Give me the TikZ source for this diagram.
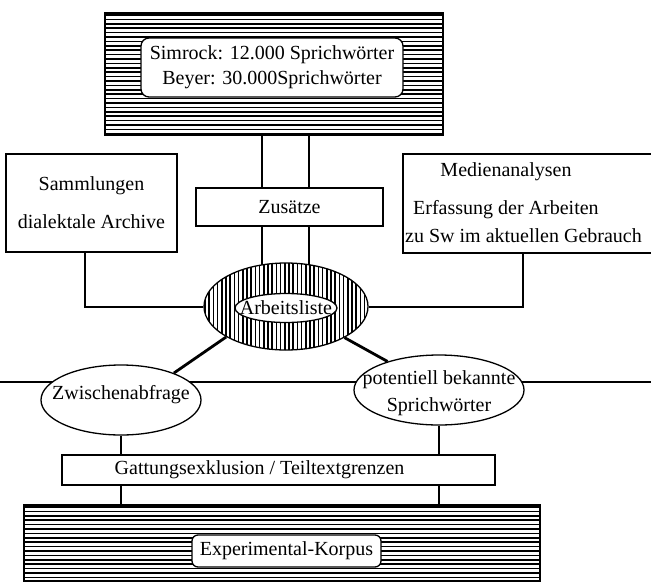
\documentclass[tikz,border=0pt]{standalone}
\usepackage{fontspec}
\setmainfont{Liberation Serif}
\usetikzlibrary{shapes.geometric,backgrounds}

\tikzset{
  box/.style={draw, rectangle, line width=1.3pt, fill=white, inner sep=0pt},
  roundbox/.style={box, rounded corners=8pt},
  oval/.style={draw, ellipse, line width=1.3pt, fill=white, inner sep=0pt},
  hatchline/.style={line width=1.6pt},
  link/.style={line width=2.8pt},
  thinlink/.style={line width=2pt},
  rule/.style={line width=1.1pt},
}

\begin{document}
\begin{tikzpicture}[x=1pt,y=-1pt,font=\fontsize{20}{25}\selectfont]
\useasboundingbox (0,0) rectangle (651,582);

% x positions of the vertical connectors
\coordinate (xa) at (262,0);
\coordinate (xb) at (309,0);
\coordinate (xl) at (85,0);
\coordinate (xr) at (523,0);
\coordinate (hw) at (0,382);
\coordinate (he) at (651,382);

% sources on top
\node[box, minimum width=338, minimum height=122] (top) at (274,74) {};
\begin{scope}
  \clip (top.north west) rectangle (top.south east);
  \foreach \yy in {15,19.4,...,135} \draw[hatchline] (0,\yy) -- (651,\yy);
\end{scope}
\node[roundbox, minimum width=262, minimum height=59, align=center] (src) at (272,67.5)
  {Simrock: 12.000 Sprichwörter\\Beyer: 30.000Sprichwörter};

\node[box, minimum width=187, minimum height=38] (zus) at (289.5,207) {Zusätze};
\node[box, minimum width=171, minimum height=98, align=center] (samm) at (91.5,203)
  {Sammlungen\\[13pt]dialektale Archive};
\node[box, minimum width=252, minimum height=99] (medien) at (529,203.5) {};
\node (medT1) at (506,172) {Medienanalysen};
\node[anchor=west, inner sep=0pt] (medT2) at (413,210) {Erfassung der Arbeiten};
\node[anchor=west, inner sep=0pt] (medT3) at (405,236) {zu Sw im aktuellen Gebrauch};

% work list
\node[oval, minimum width=164, minimum height=87] (liste) at (286,306.5) {};
\begin{scope}
  \clip (286,306.5) ellipse [x radius=82pt, y radius=43.5pt];
  \foreach \xx in {205,209.2,...,370} \draw[hatchline] (\xx,260) -- (\xx,352);
\end{scope}
\node[oval, minimum width=102, minimum height=29] (arbeit) at (286,308) {};
\node (arbeitT) at (286,308) {Arbeitsliste};

\node[oval, minimum width=160, minimum height=70] (zwi) at (121,400) {};
\node (zwiT) at (121,395) {Zwischenabfrage};
\node[oval, minimum width=170, minimum height=70] (pot) at (439,390) {};
\node[align=center] (potT) at (439,393.5) {potentiell bekannte\\[2pt]Sprichwörter};

\node[box, minimum width=433, minimum height=30] (gatt) at (278.5,470)
  {Gattungsexklusion / Teiltextgrenzen\hspace*{38pt}};

% corpus
\node[box, minimum width=516, minimum height=76] (corpus) at (282,543) {};
\begin{scope}
  \clip (corpus.north west) rectangle (corpus.south east);
  \foreach \yy in {507,511.4,...,582} \draw[hatchline] (0,\yy) -- (651,\yy);
\end{scope}
\node[roundbox, rounded corners=6pt, minimum width=189, minimum height=32] (korpus) at (286.5,551)
  {Experimental-Korpus};

\begin{scope}[on background layer]
  \draw[rule] (hw) -- (he);
  \draw[link] (top.south -| xa) -- (zus.north -| xa);
  \draw[link] (top.south -| xb) -- (zus.north -| xb);
  \draw[link] (zus.south -| xa) -- (liste.center -| xa);
  \draw[link] (zus.south -| xb) -- (liste.center -| xb);
  \draw[thinlink] (samm.south -| xl) |- (liste);
  \draw[thinlink] (medien.south -| xr) |- (liste);
  \draw[link] (liste.-153) -- (zwi.27);
  \draw[link] (liste.-28) -- (pot.151);
  \draw[link] (zwi.south) -- (gatt.north -| zwi.south);
  \draw[link] (pot.south) -- (gatt.north -| pot.south);
  \draw[link] (gatt.south -| zwi.south) -- (corpus.north -| zwi.south);
  \draw[link] (gatt.south -| pot.south) -- (corpus.north -| pot.south);
\end{scope}
\end{tikzpicture}
\end{document}
